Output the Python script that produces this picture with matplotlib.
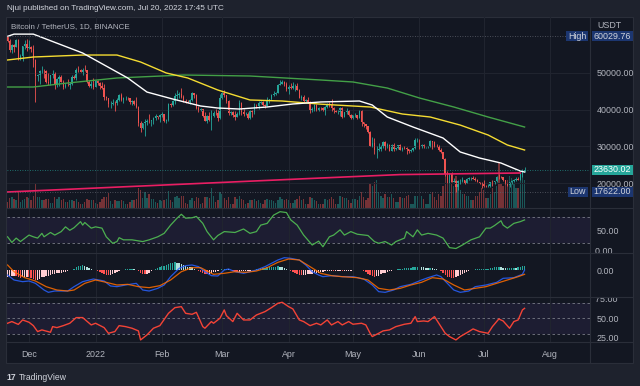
import numpy as np
import matplotlib
matplotlib.use("Agg")
import matplotlib.pyplot as plt
import matplotlib.dates as mdates
from matplotlib import font_manager
from matplotlib.patches import Rectangle
from matplotlib.lines import Line2D
from matplotlib.transforms import blended_transform_factory, Bbox, TransformedBbox

# BTC/USDT daily candles, 2021-11-21 .. 2022-07-20
start = np.datetime64("2021-11-21")
first_open = 59707
close = [58622, 56247, 57541, 57138, 58960, 53727, 54721, 57274, 57776, 56950,
         57184, 56480, 53601, 49152, 49396, 50441, 50588, 50471, 47545, 47140, 49389, 50053, 46702, 48343, 48864, 47632,
         46131, 46834, 46681, 46914, 48890, 48588, 50838, 50820, 50400, 50775, 50701, 47543, 46464, 47120, 46216,
         47722, 47286, 46446, 45833, 43425, 43082, 41566, 41679, 41864, 41822, 42729, 43902, 42560, 43059, 43084, 43071,
         42201, 42352, 41660, 40680, 36445, 35071, 36244, 36660, 36958, 36809, 37160, 37716, 38166, 37881, 38466,
         38690, 36896, 37311, 41574, 41383, 42380, 43839, 44042, 44372, 43495, 42373, 42217, 42053, 42535, 44544, 43873,
         40515, 39974, 40079, 38387, 37008, 38230, 37250, 38327, 39219, 39116, 37699, 43160,
         44421, 43892, 42454, 39137, 39400, 38420, 37988, 38730, 41941, 39422, 38730, 38807, 37777, 39671, 39280, 41114,
         40917, 41757, 42201, 41262, 41002, 42364, 42882, 43991, 44313, 44511, 46827, 47122, 47434, 47067, 45510,
         46283, 45811, 46407, 46580, 45497, 43170, 43445, 42252, 42753, 42158, 39530, 40074, 41147, 39942, 40551, 40378,
         39678, 40801, 41493, 41358, 40480, 39709, 39441, 39450, 40426, 38112, 39235, 39742, 38596, 37630,
         38468, 38525, 37729, 39690, 36552, 36013, 35472, 34039, 30076, 31018, 28937, 29047, 29284, 30101, 31305, 29862,
         30425, 28716, 30297, 29198, 29432, 30324, 29098, 29655, 29543, 29202, 28629, 29020, 29445, 31727, 31792,
         29799, 30467, 29704, 29832, 29906, 31371, 31125, 30204, 30109, 29091, 28424, 26574, 22488, 22136, 22584, 20401,
         20468, 19017, 20554, 20555, 20721, 19988, 21110, 21237, 21492, 21038, 20742, 20281, 20124, 19942,
         19279, 19252, 19315, 20236, 20175, 20564, 21624, 21594, 21592, 20860, 19970, 19323, 20213, 20586, 20830, 21198,
         20786, 22433, 23396, 23630.02]
high = [60029.76, 59266, 57875, 57803, 59398, 59170, 55280, 57445, 58865, 59249,
        59053, 57375, 57600, 53869, 49699, 50891, 51936, 51200, 50797, 50015, 49485, 50777, 50189, 48700, 49500, 49436,
        47995, 47358, 48300, 47537, 49328, 49576, 51375, 51810, 51156, 51280, 52088, 50704, 48119, 47879, 48548,
        47954, 47990, 47570, 47505, 47070, 43748, 43145, 42300, 42786, 42248, 43100, 44322, 44458, 43448, 43800, 43475,
        43179, 42691, 42572, 43505, 41100, 36835, 36499, 37550, 37545, 38919, 37234, 38000, 38720, 38359, 38744,
        39265, 38855, 37387, 41772, 41913, 42656, 44500, 45492, 44799, 45821, 43920, 43000, 42760, 42876, 44751, 44581,
        44198, 40959, 40444, 40125, 39494, 38429, 39249, 39843, 39683, 40300, 39855, 44225,
        44949, 45400, 44101, 42527, 39742, 39695, 39547, 39362, 42594, 42039, 40236, 39486, 39310, 39947, 39887, 41718,
        41478, 42325, 42400, 42296, 41544, 43361, 43025, 44220, 45094, 44792, 46999, 48189, 48096, 47700, 47600,
        46720, 47213, 47444, 46890, 47200, 45507, 43900, 43970, 42800, 43410, 42414, 40699, 41561, 41500, 40709, 40709,
        40595, 41100, 41760, 42199, 42976, 40795, 39980, 39940, 40616, 40797, 39474, 40372, 39925, 38795,
        38675, 39167, 38652, 40023, 39845, 36666, 36146, 35502, 34243, 32658, 32143, 30032, 30976, 30343, 31460, 31320,
        30788, 30666, 30545, 30777, 29600, 30487, 30672, 29835, 30223, 29886, 29396, 29250, 29562, 32222, 32399,
        31982, 30690, 30700, 29950, 30150, 31765, 31550, 31327, 30700, 30380, 29440, 28550, 26895, 23336, 22800, 22978,
        21365, 20783, 20815, 21090, 21723, 20900, 21233, 21529, 21600, 21868, 21540, 21200, 20400, 20180,
        20750, 19400, 19650, 20354, 20750, 20675, 21838, 22527, 21950, 21600, 20885, 20055, 20250, 20880, 21200, 21564,
        21666, 22777, 23800, 24276]
low = [58486, 55610, 55317, 55838, 57000, 53500, 53610, 53256, 56666, 55875,
       56458, 55777, 51680, 42000, 47727, 47100, 50039, 48600, 47320, 46852, 46751, 48638, 45672, 46290, 46547, 47511,
       45500, 45954, 46406, 45558, 46630, 48421, 48050, 50384, 50171, 49412, 50449, 47313, 46201, 45900, 45678,
       46208, 46654, 45696, 45516, 42500, 42645, 40610, 40501, 41200, 39650, 41268, 42450, 42311, 41725, 42577, 42581,
       41540, 41250, 41138, 40553, 35440, 34008, 34601, 32917, 35701, 36234, 35507, 36155, 37268, 37351, 36632,
       38000, 36586, 36250, 36984, 40843, 41116, 41645, 42666, 43117, 43187, 42000, 41748, 41870, 41570, 42427, 43307,
       40073, 39450, 39639, 38000, 36800, 36350, 37036, 34322, 38014, 38600, 37000, 37450,
       42809, 43334, 41832, 38550, 38604, 38088, 37155, 37867, 38656, 38539, 38223, 38660, 37578, 37555, 38098, 38828,
       40500, 40135, 41516, 40911, 40467, 40875, 41751, 42560, 43602, 44072, 44421, 46663, 46950, 46445, 45200,
       44200, 45620, 45530, 45118, 45353, 43121, 42727, 42107, 42125, 41868, 39200, 39254, 39588, 39551, 39766, 40013,
       39546, 38536, 40571, 40820, 39751, 39177, 39285, 38929, 38200, 37702, 37867, 38881, 38175, 37578,
       37386, 38052, 37500, 37670, 35571, 35258, 34785, 33713, 30033, 29730, 27785, 26700, 28751, 28630, 29480, 29091,
       29450, 28654, 28708, 28731, 28947, 29255, 28866, 28669, 29294, 28019, 28282, 28450, 28852, 29300, 31200,
       29301, 29594, 29450, 29480, 29500, 29880, 29218, 29843, 29944, 28850, 28099, 26560, 21925, 20111, 20080, 20232,
       20246, 17622, 17960, 19640, 20348, 19770, 19890, 20940, 20905, 20990, 20510, 20210, 19850, 18626,
       18966, 18976, 18781, 19046, 19305, 19761, 20240, 21192, 21320, 20635, 19860, 19237, 18910, 19616, 20385, 20478,
       20760, 20763, 21581, 23000]
volume = [30, 50, 55, 45, 40, 80, 28, 40, 45, 55,  # thousand BTC
          50, 40, 60, 120, 55, 55, 40, 40, 45, 45, 25, 25, 55, 45, 55, 40, 45, 30, 30, 40, 40, 35, 45, 30, 20, 20,
          30, 45, 40, 40, 40,
          25, 20, 30, 45, 55, 55, 75, 35, 20, 40, 35, 35, 40, 35, 20, 20, 30, 40, 40, 45, 100, 90, 50, 80, 50, 70,
          45, 45, 30, 25, 40,
          35, 40, 45, 85, 40, 30, 55, 60, 50, 60, 60, 25, 20, 40, 50, 35, 55, 50, 20, 25, 55, 55, 50, 100, 60, 30,
          40, 80,
          70, 50, 40, 55, 20, 20, 55, 45, 60, 45, 40, 20, 25, 40, 40, 45, 35, 40, 25, 20, 40, 45, 40, 40, 35, 25,
          40, 55, 45, 40, 45,
          40, 25, 25, 40, 45, 60, 40, 45, 20, 20, 55, 50, 40, 35, 20, 20, 20, 45, 40, 45, 55, 45, 20, 20, 60, 55,
          50, 50, 40, 25,
          45, 45, 40, 60, 80, 55, 40, 50, 125, 110, 130, 140, 80, 60, 50, 70, 55, 55, 70, 50, 30, 30, 55, 50, 50,
          60, 65, 20, 20, 60, 60,
          70, 60, 45, 20, 20, 70, 80, 55, 40, 70, 60, 110, 180, 160, 170, 130, 110, 160, 130, 90, 70, 70, 60, 60,
          40, 40, 60, 60, 80, 100,
          90, 50, 50, 70, 100, 80, 110, 225, 120, 110, 130, 140, 160, 150, 120, 100, 100, 150, 180, 140]

# moving averages (day offset from start, price)
ma_white_days = [0, 3, 12, 35, 56, 65, 77, 90, 98, 108, 121, 133, 146, 164, 170, 177, 189, 203, 211, 220, 230, 239, 241]
ma_white = [60000, 60600, 60600, 55450, 48640, 44800, 42900, 41000, 40450, 40180, 40730, 41550, 42100, 42360,
            41270, 38000, 35270, 32270, 28460, 26820, 25450, 23270, 23000]
ma_yellow_days = [0, 12, 35, 51, 62, 74, 84, 98, 113, 128, 146, 169, 184, 197, 211, 224, 233, 241]
ma_yellow = [53550, 54360, 54900, 54900, 53000, 50000, 48640, 45360, 42640, 42360, 41500, 40730, 38820, 38000,
             35800, 33090, 30360, 29000]
ma_green_days = [0, 12, 28, 51, 82, 113, 146, 161, 177, 192, 208, 224, 241]
ma_green = [46180, 46180, 47270, 48640, 49450, 49180, 48090, 47550, 45900, 43180, 40730, 38000, 35270]
ma_pink_days = [0, 146, 183, 239]
ma_pink = [17550, 21360, 22300, 22730]

# oscillator panel (green, 80/20 bands)
mfi_days = [0, 2, 4, 6, 10, 12, 14, 16, 17, 20, 22, 25, 27, 29, 31, 34, 35, 36, 39, 41, 44, 46, 49, 51, 52, 54,
            58, 63, 66, 70, 73, 76, 79, 81, 83, 86, 88, 91, 93, 96, 98, 101, 106, 110, 113, 116, 118, 121, 124,
            127, 130, 132, 135, 138, 142, 145, 147, 150, 152, 155, 157, 160, 163, 168, 171, 173, 176, 179, 181,
            185, 186, 189, 191, 193, 196, 200, 203, 206, 209, 212, 216, 220, 223, 225, 227, 230, 231, 233, 236,
            239, 241]
mfi = [35, 22, 32, 24, 39, 35, 32, 43, 35, 45, 39, 47, 58, 50, 56, 70, 62, 68, 55, 58, 55, 35, 20, 24, 33, 28,
       28, 24, 28, 35, 43, 62, 78, 87, 78, 79, 82, 66, 47, 28, 38, 47, 45, 53, 43, 47, 62, 66, 85, 93, 91, 74, 62,
       39, 16, 25, 12, 35, 39, 51, 39, 47, 41, 38, 24, 20, 24, 16, 24, 32, 47, 35, 51, 39, 43, 39, 32, 10, 8, 16,
       28, 35, 55, 55, 61, 72, 62, 55, 66, 70, 74]

# MACD panel
macd_days = [0, 3, 7, 10, 13, 17, 19, 22, 25, 28, 31, 35, 40, 45, 48, 51, 55, 60, 63, 66, 70, 73, 76, 80, 83, 86,
             89, 92, 95, 98, 101, 103, 106, 110, 113, 116, 120, 123, 126, 129, 132, 136, 139, 142, 145, 147, 151,
             156, 161, 166, 170, 173, 176, 180, 183, 188, 193, 196, 200, 202, 205, 208, 211, 215, 218, 223, 228,
             231, 236, 240, 241]
macd = [-675, -1350, -1575, -1485, -1800, -2700, -3015, -2835, -2835, -2835, -2250, -1575, -1215, -1485, -2160,
        -2250, -2025, -1800, -2700, -2835, -2475, -2025, -900, 225, 585, 675, 450, -225, -765, -810, 0, 135, -225,
        -450, -225, 0, 450, 900, 1350, 1665, 1575, 1350, 675, -225, -675, -900, -765, -900, -900, -1215, -2025,
        -2925, -3015, -2700, -2250, -1935, -1350, -1035, -675, -900, -1800, -2700, -3015, -2835, -2250, -2025,
        -1665, -1125, -1035, -585, 0]
signal_days = [0, 3, 8, 13, 18, 23, 28, 31, 36, 41, 46, 51, 56, 61, 66, 71, 76, 81, 86, 90, 93, 96, 101, 106, 111,
               116, 121, 126, 131, 136, 141, 146, 151, 156, 163, 168, 173, 178, 183, 188, 193, 198, 203, 208, 213,
               218, 223, 228, 233, 238, 241]
signal = [675, -225, -1035, -1485, -2250, -2700, -2835, -2700, -1800, -1350, -1665, -2025, -1935, -2250, -2385,
          -2115, -1350, -225, 315, 315, -135, -585, -450, -225, -315, -135, 315, 1035, 1485, 1350, 450, -450, -765,
          -900, -1035, -1350, -2475, -2700, -2475, -2025, -1665, -1035, -1215, -2025, -2700, -2475, -2250, -1800,
          -1350, -900, -585]
macd_hist = [-900, -850, -800, -750, -800, -950, -1050, -1000, -950, -950, -1000, -1100, -1250,
             -1400, -1300, -1150, -1000, -900, -800, -750, -650, -550, -500, -450, -400, -350, -300, -250,
             -150, -50, 50, 150, 350, 500, 600, 650, 600, 450, 300, 150, 50, -50, -100,
             -250, -400, -550, -650, -700, -650, -550, -450, -300, -150, -50, 50, 100, 150, 200, 200,
             150, 50, -150, -400, -550, -600, -500, -350, -200, -50, 100, 250, 400, 500,
             550, 650, 800, 900, 1000, 1050, 1000, 950, 850, 700, 550, 450, 400, 350, 200, 50, -100, -250,
             -400, -500, -550, -500, -400, -300, -250, -200, -50, 100, 200, 200, 150, 0, -150, -250, -300, -250,
             -200, -200, -200, -150, -100, 0, 50, 150, 200, 250, 300, 300, 350, 400, 450, 450, 450, 500, 450, 400,
             300, 200, 50, -100, -250, -400, -550, -650, -700, -700, -650, -600,
             -550, -500, -450, -400, -350, -300, -250, -200, -150, -100, -100, -150, -150, -100, -100, -150, -150,
             -100, -100, -100, -50, -50, -50, 0, -50, -150, -300, -500, -700, -800,
             -900, -850, -750, -600, -450, -350, -250, -150, -100, 0, 50, 100, 150, 200, 250, 250, 250, 300, 350,
             400, 450, 450, 400, 350, 300, 250, 300, 250, 200, 100, 0, -150, -400, -700,
             -900, -1000, -1050, -1100, -1000, -850, -700, -550, -400, -250, -100, 0, 50, 100, 150, 150,
             150, 150, 150, 200, 250, 300, 350, 400, 400, 350, 300, 250, 250, 300, 300, 300, 250, 350, 450, 500, 550]

# RSI panel
rsi_days = [0, 2, 5, 7, 10, 12, 14, 16, 20, 21, 23, 26, 29, 32, 35, 39, 41, 45, 47, 50, 52, 55, 58, 61, 62, 65, 68,
            71, 75, 78, 81, 83, 86, 88, 91, 92, 95, 96, 99, 101, 102, 105, 107, 110, 113, 116, 120, 123, 126, 128,
            131, 133, 136, 138, 141, 144, 146, 149, 151, 154, 156, 159, 161, 165, 167, 169, 170, 173, 175, 178,
            181, 185, 188, 190, 191, 194, 196, 199, 201, 204, 206, 209, 211, 215, 217, 220, 224, 226, 229, 231,
            234, 236, 238, 240, 241]
rsi = [43.5, 45.7, 42, 47.8, 44.8, 40.4, 32.6, 34.8, 31.7, 39.1, 37.8, 40.4, 43.5, 50.9, 50.9, 41.3, 43.5, 37.8,
       30.4, 32.6, 40.4, 39.1, 37, 33.5, 21.7, 28.3, 37, 40.4, 56.5, 63.9, 65.2, 56.5, 55.2, 57.8, 39.1, 37, 45.7,
       43.5, 50, 60.9, 53.5, 45.7, 56.5, 47.8, 47.8, 54.3, 58.7, 63.9, 69.6, 70.9, 65.2, 62.2, 47.8, 45.7, 40.4,
       43.5, 41.3, 47.8, 41.3, 45.7, 41.3, 45.7, 42.2, 43.5, 41.3, 30.4, 26.1, 30.4, 33.5, 34.8, 39.1, 42.2, 43.5,
       52.2, 45.7, 46.5, 45.7, 52.2, 43.5, 30.4, 26.1, 21.7, 26.1, 32.6, 36.1, 32.6, 30.4, 39.1, 49.1, 46.5, 37,
       45.7, 47.8, 60.9, 63]

assert len(close) == len(high) == len(low) == len(volume) == len(macd_hist) == 242

# ---- look ----
names = {f.name for f in font_manager.fontManager.ttflist}
narrow = "Liberation Sans Narrow" if "Liberation Sans Narrow" in names else "Liberation Sans"
plt.rcParams["font.family"] = [narrow, "DejaVu Sans"]

W, H = 640, 386
OUT = "#1e222d"
BG = "#131722"
GRID = "#20242f"
SEP = "#2a2e39"
TXT = "#b2b5be"
UP = "#26a69a"
DOWN = "#ef5350"
FS = 6.4


def frac(x0, y0, x1, y1):
    return [x0 / W, 1 - y1 / H, (x1 - x0) / W, (y1 - y0) / H]


def at(d):
    return start + np.array(d, dtype="timedelta64[D]")


fig = plt.figure(figsize=(6.4, 3.86), dpi=100, facecolor=OUT)
fig.add_artist(Rectangle((6 / W, 1 - 363 / H), 627 / W, 346 / H, transform=fig.transFigure,
                         fc=BG, ec=SEP, lw=0.8, zorder=-10))

ax = fig.add_axes(frac(6.5, 17, 590, 208))
ax_v = ax.twinx()
ax_g = fig.add_axes(frac(6.5, 208, 590, 253), sharex=ax)
ax_m = fig.add_axes(frac(6.5, 253, 590, 297), sharex=ax)
ax_r = fig.add_axes(frac(6.5, 297, 590, 342), sharex=ax)
ax.set_zorder(2)
ax_v.set_zorder(1)

for a in (ax, ax_v, ax_g, ax_m, ax_r):
    a.set_facecolor("none")
    for s in a.spines.values():
        s.set_visible(False)
    a.tick_params(length=0, colors=TXT, labelsize=FS)
for a in (ax, ax_g, ax_m, ax_r):
    a.yaxis.tick_right()
    a.tick_params(axis="y", pad=5)
    a.grid(axis="x", color=GRID, lw=0.8)
ax.grid(axis="y", color=GRID, lw=0.8)

# candles + volume
dates = start + np.arange(len(close))
c = np.array(close, dtype=float)
o = np.array([first_open] + close[:-1], dtype=float)
col = np.where(c >= o, UP, DOWN)
ax_v.bar(dates, volume, width=0.65, color=col, alpha=0.45, lw=0)
ax_v.set_ylim(0, 955)
ax_v.set_yticks([])
ax.vlines(dates, low, high, colors=col, lw=0.6)
ax.bar(dates, np.abs(c - o), bottom=np.minimum(o, c), width=0.7, color=col, lw=0)

ax.plot(at(ma_pink_days), ma_pink, color="#e91e63", lw=1.2)
ax.plot(at(ma_green_days), ma_green, color="#43a047", lw=1.0)
ax.plot(at(ma_yellow_days), ma_yellow, color="#f5dc32", lw=1.0)
ax.plot(at(ma_white_days), ma_white, color="#ffffff", lw=1.0)

ax.set_ylim(13185, 65270)
ax.set_yticks([20000, 30000, 40000, 50000])
ax.set_yticklabels([f"{v:.2f}" for v in [20000, 30000, 40000, 50000]])

hi, lo, last = max(high), min(low), close[-1]
ax.axhline(hi, xmax=0.959, color="#5d606b", lw=0.6, ls=(0, (1, 2)))
ax.axhline(lo, xmax=0.962, color="#5d606b", lw=0.6, ls=(0, (1, 2)))
ax.axhline(last, color=UP, lw=0.6, ls=(0, (1, 2)), alpha=0.8)

tr = blended_transform_factory(ax.transAxes, ax.transData)


def tag(x0, x1, val, s, fc, tc):
    ax.add_patch(Rectangle((x0, val - 1350), x1 - x0, 2700, transform=tr, fc=fc, ec="none",
                           clip_on=False, zorder=5))
    ax.text((x0 + x1) / 2, val, s, transform=tr, ha="center", va="center", color=tc, size=FS,
            clip_on=False, zorder=6)


tag(0.959, 0.9966, hi, "High", "#1c3670", "#d1d4dc")
tag(1.0026, 1.0737, hi, f"{hi:.2f}", "#1c3670", "#d1d4dc")
tag(0.962, 0.9966, lo, "Low", "#1c3670", "#d1d4dc")
tag(1.0026, 1.0737, lo, f"{lo:.2f}", "#1c3670", "#d1d4dc")
tag(1.0026, 1.0737, last, f"{last:.2f}", UP, "#ffffff")

# oscillator (green)
ax_g.axhspan(20, 80, color="#7e57c2", alpha=0.1, lw=0)
for v in (20, 80):
    ax_g.axhline(v, color="#787b86", lw=0.6, ls=(0, (3, 3)))
ax_g.plot(at(mfi_days), mfi, color="#4caf50", lw=0.9)
ax_g.set_ylim(-2.4, 101.5)
ax_g.set_yticks([50])
ax_g.set_yticklabels(["50.00"])

# MACD
hist = np.array(macd_hist, dtype=float)
prev = np.concatenate([[hist[0]], hist[:-1]])
hcol = np.where(hist >= 0, np.where(hist >= prev, "#26a69a", "#b2dfdb"),
                np.where(hist < prev, "#ff5252", "#ffcdd2"))
ax_m.bar(dates, hist, width=0.65, color=hcol, lw=0)
ax_m.plot(at(macd_days), macd, color="#2962ff", lw=0.9, alpha=0.85)
ax_m.plot(at(signal_days), signal, color="#ff6d00", lw=0.9, alpha=0.85)
ax_m.set_ylim(-3645, 2295)
ax_m.set_yticks([0])
ax_m.set_yticklabels(["0.00"])

# RSI
ax_r.axhspan(30, 70, color="#7e57c2", alpha=0.1, lw=0)
for v in (30, 50, 70):
    ax_r.axhline(v, color="#787b86", lw=0.6, ls=(0, (3, 3)))
ax_r.plot(at(rsi_days), rsi, color="#f44336", lw=1.0)
ax_r.set_ylim(19, 77.8)
ax_r.set_yticks([25, 50])
ax_r.set_yticklabels(["25.00", "50.00"])


def cut_label(a, val, s):
    t = a.text(1.0, val, "  " + s, transform=blended_transform_factory(a.transAxes, a.transData),
               ha="left", va="center", color=TXT, size=FS)
    t.set_clip_path(None)
    t.set_clip_box(TransformedBbox(Bbox([[1.0, 0.0], [1.08, 1.0]]), a.transAxes))
    t.set_clip_on(True)


cut_label(ax_g, 0, "0.00")
cut_label(ax_r, 75, "75.00")

# x axis
ax.set_xlim(start - np.timedelta64(12, "h"), start + np.timedelta64(6516, "h"))


def month_label(x, pos):
    d = mdates.num2date(x)
    return str(d.year) if d.month == 1 else d.strftime("%b")


ax_r.xaxis.set_major_locator(mdates.MonthLocator())
ax_r.xaxis.set_major_formatter(plt.FuncFormatter(month_label))
ax_r.tick_params(axis="x", pad=5.5)
for a in (ax, ax_g, ax_m):
    a.tick_params(axis="x", labelbottom=False)

# frame lines
for y in (208, 253, 297, 342):
    fig.add_artist(Line2D([6 / W, 633 / W], [1 - y / H] * 2, color=SEP, lw=0.8))
fig.add_artist(Line2D([590 / W] * 2, [1 - 17 / H, 1 - 363 / H], color=SEP, lw=0.8))

# texts
fig.text(7 / W, 1 - 9 / H, "Njui published on TradingView.com, Jul 20, 2022 17:45 UTC",
         color="#d1d4dc", size=5.9, va="center")
fig.text(11 / W, 1 - 27 / H, "Bitcoin / TetherUS, 1D, BINANCE", color=TXT, size=5.8, va="center")
fig.text(597 / W, 1 - 25 / H, "USDT", color=TXT, size=FS, va="center")
fig.text(6 / W, 1 - 378 / H, "17", color="#d1d4dc", size=6.2, weight="bold", va="center")
fig.text(18.5 / W, 1 - 378 / H, "TradingView", color="#d1d4dc", size=6.2, va="center")

fig.savefig("out.png", dpi=100, facecolor=OUT)
